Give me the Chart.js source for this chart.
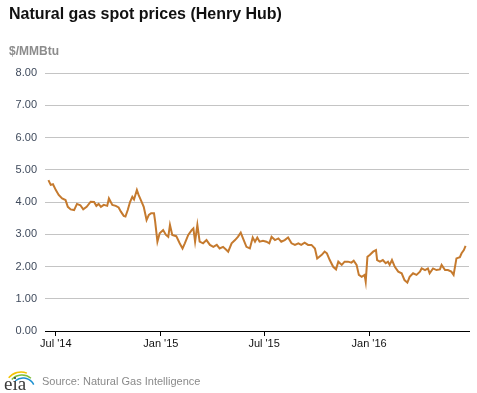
<!DOCTYPE html>
<html>
<head>
<meta charset="utf-8">
<script src="https://cdn.jsdelivr.net/npm/chart.js@4/dist/chart.umd.min.js"></script>
<style>
  html, body { margin: 0; padding: 0; background: #fff; }
  #wrap { position: relative; width: 477px; height: 393px; }
</style>
</head>
<body>
<div id="wrap"><canvas id="grafico" width="477" height="393"></canvas></div>
<script>
// días desde el 1 jul 2014 y precio ($/MMBtu)
const dias = [
  -13, -9, -5, 0, 5, 11, 17, 21, 26, 32, 37, 43, 48, 54, 61, 67, 71, 75, 79, 84,
  90, 93, 99, 105, 110, 114, 119, 122, 126, 130, 134, 137, 142, 145, 149, 154, 159, 163, 167, 172,
  174, 178, 182, 188, 193, 197, 200, 204, 211, 217, 222, 226, 232, 238, 241, 244, 248, 252, 258, 264,
  270, 276, 282, 287, 293, 299, 302, 308, 314, 319, 324, 328, 334, 340, 345, 349, 353, 357, 363, 369,
  374, 378, 384, 390, 395, 401, 407, 413, 419, 425, 430, 436, 442, 448, 454, 458, 466, 471, 475, 480,
  486, 491, 495, 501, 506, 512, 518, 522, 527, 531, 536, 541, 543, 546, 550, 556, 561, 563, 568, 573,
  578, 582, 585, 589, 594, 600, 606, 611, 616, 620, 626, 632, 638, 641, 647, 652, 655, 661, 667, 673,
  676, 682, 687, 693, 697, 702, 708, 711, 715, 718
];
const precios = [
  4.68, 4.53, 4.55, 4.37, 4.22, 4.11, 4.06, 3.85, 3.77, 3.75, 3.94, 3.90, 3.77, 3.85, 4.01, 4.00, 3.88, 3.94, 3.85, 3.91,
  3.88, 4.11, 3.91, 3.88, 3.83, 3.70, 3.57, 3.55, 3.75, 4.00, 4.16, 4.08, 4.37, 4.22, 4.06, 3.85, 3.44, 3.60, 3.65, 3.65,
  3.40, 2.77, 3.03, 3.13, 2.98, 2.92, 3.29, 2.98, 2.94, 2.72, 2.56, 2.72, 2.98, 3.13, 3.18, 2.77, 3.29, 2.77, 2.72, 2.82,
  2.67, 2.61, 2.67, 2.56, 2.61, 2.51, 2.46, 2.72, 2.82, 2.92, 3.05, 2.87, 2.61, 2.56, 2.90, 2.77, 2.90, 2.77, 2.80, 2.77,
  2.72, 2.92, 2.82, 2.87, 2.77, 2.82, 2.90, 2.72, 2.67, 2.72, 2.67, 2.74, 2.67, 2.67, 2.56, 2.25, 2.36, 2.46, 2.41, 2.20,
  1.99, 1.91, 2.15, 2.05, 2.15, 2.15, 2.12, 2.18, 2.05, 1.74, 1.68, 1.74, 1.53, 2.30, 2.36, 2.46, 2.51, 2.20, 2.15, 2.20,
  2.10, 2.15, 2.05, 2.20, 1.99, 1.84, 1.79, 1.58, 1.50, 1.68, 1.79, 1.74, 1.84, 1.94, 1.89, 1.94, 1.79, 1.94, 1.89, 1.91,
  2.05, 1.89, 1.89, 1.84, 1.74, 2.25, 2.29, 2.41, 2.51, 2.64
];
const marcasX = [0, 184, 365, 549];
const etiquetasX = ["Jul '14", "Jan '15", "Jul '15", "Jan '16"];

const fuente = '"Liberation Sans", Arial, sans-serif';

// Textos y logo fuera del área del gráfico
const textos = {
  id: 'textos',
  afterDraw(chart) {
    const c = chart.ctx;
    c.save();
    c.textBaseline = 'alphabetic';
    c.textAlign = 'left';
    c.fillStyle = '#111';
    c.font = 'bold 16px ' + fuente;
    c.fillText('Natural gas spot prices (Henry Hub)', 9, 19);
    c.fillStyle = '#8c8c8c';
    c.font = 'bold 12px ' + fuente;
    c.fillText('$/MMBtu', 9, 55);
    c.fillStyle = '#8a8a8a';
    c.font = '11px ' + fuente;
    c.fillText('Source: Natural Gas Intelligence', 42, 385);
    // logo eia
    c.lineWidth = 1.5;
    c.strokeStyle = '#f2c200';
    c.beginPath(); c.arc(21, 388, 16, Math.PI * 1.22, Math.PI * 1.62); c.stroke();
    c.strokeStyle = '#7cbf3a';
    c.beginPath(); c.arc(22, 389, 14, Math.PI * 1.24, Math.PI * 1.72); c.stroke();
    c.strokeStyle = '#1a8fd0';
    c.beginPath(); c.arc(23, 390, 12, Math.PI * 1.28, Math.PI * 1.85); c.stroke();
    c.fillStyle = '#3a3a3a';
    c.font = '19px "Liberation Serif", "DejaVu Serif", serif';
    c.fillText('eia', 4, 390);
    c.restore();
  }
};

const ctx = document.getElementById('grafico').getContext('2d');
const grafico = new Chart(ctx, {
  type: 'line',
  data: {
    datasets: [{
      label: 'Henry Hub',
      data: dias.map((d, i) => ({ x: d, y: precios[i] })),
      borderColor: '#c57a2e',
      borderWidth: 2,
      pointRadius: 0,
      tension: 0,
      fill: false
    }]
  },
  options: {
    responsive: false,
    animation: false,
    layout: { padding: { top: 73, right: 8, left: 0, bottom: 0 } },
    plugins: {
      legend: { display: false },
      tooltip: { enabled: false }
    },
    scales: {
      x: {
        type: 'linear',
        min: -19,
        max: 724,
        afterBuildTicks: (scale) => { scale.ticks = marcasX.map(v => ({ value: v })); },
        afterFit: (scale) => { scale.height = 62; },
        ticks: {
          autoSkip: false,
          maxRotation: 0,
          padding: 1,
          color: '#111',
          font: { family: fuente, size: 11 },
          callback: (v) => etiquetasX[marcasX.indexOf(v)]
        },
        grid: { drawOnChartArea: false, drawTicks: true, tickLength: 5, color: '#000', lineWidth: 1 },
        border: { display: true, color: '#000', width: 1 }
      },
      y: {
        min: 0,
        max: 8,
        afterFit: (scale) => { scale.width = 45; },
        ticks: {
          stepSize: 0.5,
          padding: 8,
          color: '#3f4a5c',
          font: { family: fuente, size: 11 },
          callback: (v) => v.toFixed(2)
        },
        grid: { color: '#c4c4c4', lineWidth: 1, drawTicks: false },
        border: { display: false }
      }
    }
  },
  plugins: [textos]
});
</script>
</body>
</html>
